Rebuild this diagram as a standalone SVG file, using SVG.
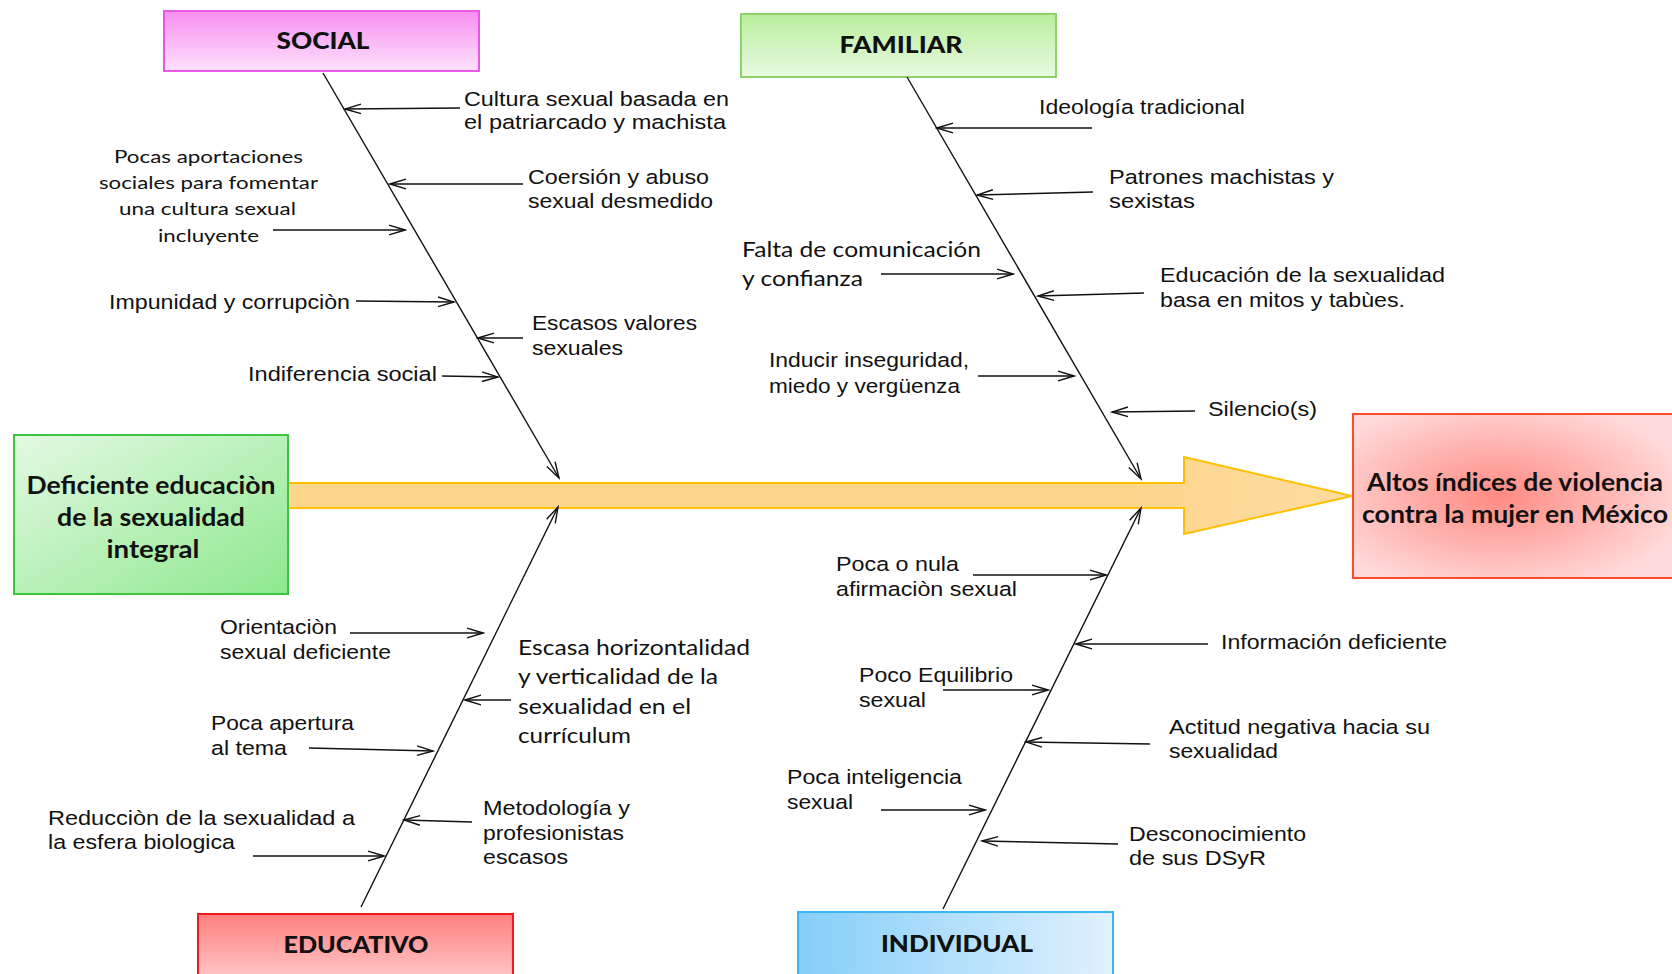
<svg xmlns="http://www.w3.org/2000/svg" width="1672" height="974" viewBox="0 0 1672 974">
<style>
.lbl{font-family:"Liberation Sans",Arial,sans-serif;font-size:20.5px;fill:#111}
.cal{font-family:Lato,"Open Sans",sans-serif;fill:#111}
.ttl{font-family:Lato,"Open Sans",sans-serif;font-weight:900;font-size:22px;fill:#111;text-anchor:middle}
.big{font-family:Lato,"Open Sans",sans-serif;font-weight:700;font-size:25px;fill:#111;text-anchor:middle}
.ln{stroke:#111;stroke-width:1.4;fill:none;marker-end:url(#ah)}
</style>
<defs>
<marker id="ah" markerUnits="userSpaceOnUse" viewBox="-17 -7 19 14" refX="0" refY="0" markerWidth="19" markerHeight="14" orient="auto">
<path d="M-16,-4.8 L0,0 L-16,4.8" fill="none" stroke="#111" stroke-width="1.4"/>
</marker>
<linearGradient id="gSoc" x1="0" y1="0" x2="0" y2="1"><stop offset="0" stop-color="#f78ef0"/><stop offset="1" stop-color="#fde2fb"/></linearGradient>
<linearGradient id="gFam" x1="0" y1="0" x2="0" y2="1"><stop offset="0" stop-color="#b8ef9c"/><stop offset="1" stop-color="#e9f9e2"/></linearGradient>
<linearGradient id="gEdu" x1="0" y1="0" x2="0" y2="1"><stop offset="0" stop-color="#ff7f7f"/><stop offset="1" stop-color="#ffc6c6"/></linearGradient>
<linearGradient id="gInd" x1="0" y1="0" x2="1" y2="0"><stop offset="0" stop-color="#85cef8"/><stop offset="1" stop-color="#e0f1fd"/></linearGradient>
<linearGradient id="gLeft" x1="0" y1="0" x2="1" y2="1"><stop offset="0" stop-color="#e3f9e3"/><stop offset="1" stop-color="#8ee88e"/></linearGradient>
<radialGradient id="gRight" cx="0.45" cy="0.5" r="0.6"><stop offset="0" stop-color="#ff8a82"/><stop offset="1" stop-color="#ffdada"/></radialGradient>
<linearGradient id="gArr" x1="0" y1="0" x2="1" y2="0"><stop offset="0" stop-color="#fdd68e"/><stop offset="0.8" stop-color="#fdd68e"/><stop offset="1" stop-color="#fddca0"/></linearGradient>
</defs>

<g id="main-arrow">
<polygon points="288,483 1184,483 1184,457 1352,496 1184,534 1184,508 288,508" fill="url(#gArr)" stroke="#ffc000" stroke-width="2"/>
</g>

<g id="node-problem">
<rect x="14" y="435" width="274" height="159" fill="url(#gLeft)" stroke="#3ec43e" stroke-width="2"/>
<text class="big" x="151" y="494" textLength="249" lengthAdjust="spacingAndGlyphs">Deficiente educaciòn</text>
<text class="big" x="151" y="526" textLength="188" lengthAdjust="spacingAndGlyphs">de la sexualidad</text>
<text class="big" x="153" y="558" textLength="93" lengthAdjust="spacingAndGlyphs">integral</text>
</g>

<g id="node-effect">
<rect x="1353" y="414" width="322" height="164" fill="url(#gRight)" stroke="#ff4b2b" stroke-width="2"/>
<text class="big" x="1515" y="491" textLength="296" lengthAdjust="spacingAndGlyphs">Altos índices de violencia</text>
<text class="big" x="1515" y="523" textLength="306" lengthAdjust="spacingAndGlyphs">contra la mujer en México</text>
</g>

<g id="node-social">
<rect x="164" y="11" width="315" height="60" fill="url(#gSoc)" stroke="#e957e5" stroke-width="2"/>
<text class="ttl" x="323" y="49" textLength="93" lengthAdjust="spacingAndGlyphs">SOCIAL</text>
</g>

<g id="node-familiar">
<rect x="741" y="14" width="315" height="63" fill="url(#gFam)" stroke="#8dd26b" stroke-width="2"/>
<text class="ttl" x="901" y="53" textLength="123" lengthAdjust="spacingAndGlyphs">FAMILIAR</text>
</g>

<g id="node-educativo">
<rect x="198" y="914" width="315" height="64" fill="url(#gEdu)" stroke="#ee1c1c" stroke-width="2"/>
<text class="ttl" x="356" y="953" textLength="145" lengthAdjust="spacingAndGlyphs">EDUCATIVO</text>
</g>

<g id="node-individual">
<rect x="798" y="912" width="315" height="66" fill="url(#gInd)" stroke="#3ab6f2" stroke-width="2"/>
<text class="ttl" x="957" y="952" textLength="152" lengthAdjust="spacingAndGlyphs">INDIVIDUAL</text>
</g>

<g id="connectors">
<line class="ln" x1="323" y1="73" x2="559" y2="478"/>
<line class="ln" x1="907" y1="77" x2="1141" y2="479"/>
<line class="ln" x1="361" y1="907" x2="558" y2="507"/>
<line class="ln" x1="943" y1="909" x2="1141" y2="508"/>

<line class="ln" x1="460" y1="108" x2="345" y2="109"/>
<line class="ln" x1="523" y1="184" x2="390" y2="184"/>
<line class="ln" x1="273" y1="230" x2="405" y2="230"/>
<line class="ln" x1="356" y1="301" x2="454" y2="302"/>
<line class="ln" x1="523" y1="338" x2="478" y2="338"/>
<line class="ln" x1="442" y1="376" x2="498" y2="377"/>

<line class="ln" x1="1092" y1="128" x2="937" y2="128"/>
<line class="ln" x1="1093" y1="192" x2="977" y2="195"/>
<line class="ln" x1="881" y1="274" x2="1013" y2="274"/>
<line class="ln" x1="1144" y1="293" x2="1038" y2="296"/>
<line class="ln" x1="978" y1="376" x2="1074" y2="376"/>
<line class="ln" x1="1195" y1="411" x2="1112" y2="412"/>

<line class="ln" x1="350" y1="633" x2="483" y2="633"/>
<line class="ln" x1="511" y1="700" x2="465" y2="700"/>
<line class="ln" x1="309" y1="748" x2="433" y2="751"/>
<line class="ln" x1="472" y1="822" x2="404" y2="820"/>
<line class="ln" x1="253" y1="856" x2="384" y2="856"/>

<line class="ln" x1="973" y1="575" x2="1106" y2="575"/>
<line class="ln" x1="1208" y1="644" x2="1076" y2="644"/>
<line class="ln" x1="943" y1="690" x2="1048" y2="690"/>
<line class="ln" x1="1150" y1="744" x2="1026" y2="742"/>
<line class="ln" x1="881" y1="810" x2="985" y2="810"/>
<line class="ln" x1="1118" y1="844" x2="982" y2="841"/>
</g>

<g id="labels-social">
<text class="lbl" x="464" y="106" textLength="265" lengthAdjust="spacingAndGlyphs">Cultura sexual basada en</text>
<text class="lbl" x="464" y="129" textLength="262" lengthAdjust="spacingAndGlyphs">el patriarcado y machista</text>
<text class="lbl" x="528" y="184" textLength="181" lengthAdjust="spacingAndGlyphs">Coersión y abuso</text>
<text class="lbl" x="528" y="208" textLength="185" lengthAdjust="spacingAndGlyphs">sexual desmedido</text>
<text class="cal" font-size="18" x="114" y="163" textLength="189" lengthAdjust="spacingAndGlyphs">Pocas aportaciones</text>
<text class="cal" font-size="18" x="99" y="189" textLength="219" lengthAdjust="spacingAndGlyphs">sociales para fomentar</text>
<text class="cal" font-size="18" x="119" y="215" textLength="177" lengthAdjust="spacingAndGlyphs">una cultura sexual</text>
<text class="cal" font-size="18" x="158" y="242" textLength="101" lengthAdjust="spacingAndGlyphs">incluyente</text>
<text class="lbl" x="109" y="309" textLength="241" lengthAdjust="spacingAndGlyphs">Impunidad y corrupciòn</text>
<text class="lbl" x="532" y="330" textLength="165" lengthAdjust="spacingAndGlyphs">Escasos valores</text>
<text class="lbl" x="532" y="355" textLength="91" lengthAdjust="spacingAndGlyphs">sexuales</text>
<text class="lbl" x="248" y="381" textLength="189" lengthAdjust="spacingAndGlyphs">Indiferencia social</text>
</g>

<g id="labels-familiar">
<text class="lbl" x="1039" y="114" textLength="206" lengthAdjust="spacingAndGlyphs">Ideología tradicional</text>
<text class="lbl" x="1109" y="184" textLength="225" lengthAdjust="spacingAndGlyphs">Patrones machistas y</text>
<text class="lbl" x="1109" y="208" textLength="86" lengthAdjust="spacingAndGlyphs">sexistas</text>
<text class="cal" font-size="21" x="742" y="257" textLength="239" lengthAdjust="spacingAndGlyphs">Falta de comunicación</text>
<text class="cal" font-size="21" x="742" y="286" textLength="121" lengthAdjust="spacingAndGlyphs">y confianza</text>
<text class="lbl" x="1160" y="282" textLength="285" lengthAdjust="spacingAndGlyphs">Educación de la sexualidad</text>
<text class="lbl" x="1160" y="307" textLength="245" lengthAdjust="spacingAndGlyphs">basa en mitos y tabùes.</text>
<text class="lbl" x="769" y="367" textLength="200" lengthAdjust="spacingAndGlyphs">Inducir inseguridad,</text>
<text class="lbl" x="769" y="393" textLength="191" lengthAdjust="spacingAndGlyphs">miedo y vergüenza</text>
<text class="lbl" x="1208" y="416" textLength="109" lengthAdjust="spacingAndGlyphs">Silencio(s)</text>
</g>

<g id="labels-educativo">
<text class="lbl" x="220" y="634" textLength="117" lengthAdjust="spacingAndGlyphs">Orientaciòn</text>
<text class="lbl" x="220" y="659" textLength="171" lengthAdjust="spacingAndGlyphs">sexual deficiente</text>
<text class="cal" font-size="21" x="518" y="655" textLength="232" lengthAdjust="spacingAndGlyphs">Escasa horizontalidad</text>
<text class="cal" font-size="21" x="518" y="684" textLength="200" lengthAdjust="spacingAndGlyphs">y verticalidad de la</text>
<text class="cal" font-size="21" x="518" y="714" textLength="173" lengthAdjust="spacingAndGlyphs">sexualidad en el</text>
<text class="cal" font-size="21" x="518" y="743" textLength="113" lengthAdjust="spacingAndGlyphs">currículum</text>
<text class="lbl" x="211" y="730" textLength="143" lengthAdjust="spacingAndGlyphs">Poca apertura</text>
<text class="lbl" x="211" y="755" textLength="76" lengthAdjust="spacingAndGlyphs">al tema</text>
<text class="lbl" x="483" y="815" textLength="147" lengthAdjust="spacingAndGlyphs">Metodología y</text>
<text class="lbl" x="483" y="840" textLength="141" lengthAdjust="spacingAndGlyphs">profesionistas</text>
<text class="lbl" x="483" y="864" textLength="85" lengthAdjust="spacingAndGlyphs">escasos</text>
<text class="lbl" x="48" y="825" textLength="307" lengthAdjust="spacingAndGlyphs">Reducciòn de la sexualidad a</text>
<text class="lbl" x="48" y="849" textLength="187" lengthAdjust="spacingAndGlyphs">la esfera biologica</text>
</g>

<g id="labels-individual">
<text class="lbl" x="836" y="571" textLength="123" lengthAdjust="spacingAndGlyphs">Poca o nula</text>
<text class="lbl" x="836" y="596" textLength="181" lengthAdjust="spacingAndGlyphs">afirmaciòn sexual</text>
<text class="lbl" x="1221" y="649" textLength="226" lengthAdjust="spacingAndGlyphs">Información deficiente</text>
<text class="lbl" x="859" y="682" textLength="154" lengthAdjust="spacingAndGlyphs">Poco Equilibrio</text>
<text class="lbl" x="859" y="707" textLength="67" lengthAdjust="spacingAndGlyphs">sexual</text>
<text class="lbl" x="1169" y="734" textLength="261" lengthAdjust="spacingAndGlyphs">Actitud negativa hacia su</text>
<text class="lbl" x="1169" y="758" textLength="109" lengthAdjust="spacingAndGlyphs">sexualidad</text>
<text class="lbl" x="787" y="784" textLength="175" lengthAdjust="spacingAndGlyphs">Poca inteligencia</text>
<text class="lbl" x="787" y="809" textLength="66" lengthAdjust="spacingAndGlyphs">sexual</text>
<text class="lbl" x="1129" y="841" textLength="177" lengthAdjust="spacingAndGlyphs">Desconocimiento</text>
<text class="lbl" x="1129" y="865" textLength="137" lengthAdjust="spacingAndGlyphs">de sus DSyR</text>
</g>
</svg>
